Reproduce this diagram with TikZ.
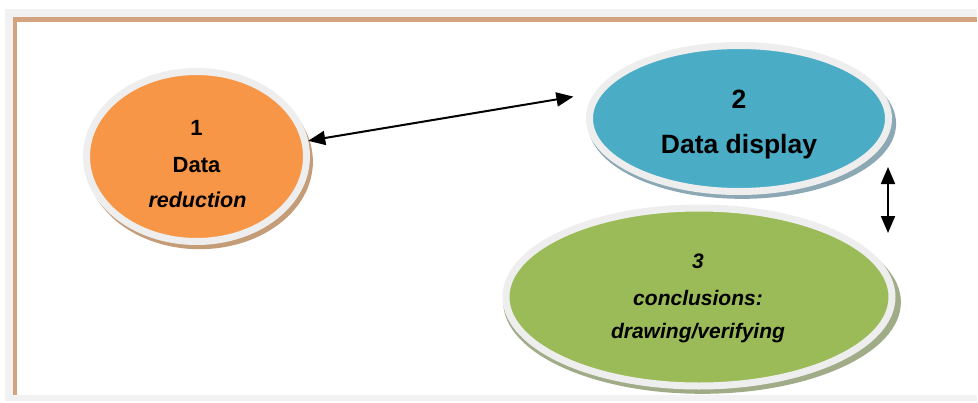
\documentclass[tikz,border=0pt]{standalone}
\usepackage{fontspec}
\setmainfont{Liberation Sans}
\usetikzlibrary{shapes.geometric,arrows.meta,shadows}
\definecolor{bgray}{HTML}{F2F2F2}
\definecolor{framec}{RGB}{211,163,128}
\definecolor{ringc}{HTML}{EEEEEE}
\definecolor{c1}{HTML}{F79646}
\definecolor{c2}{HTML}{4BACC6}
\definecolor{c3}{HTML}{9BBB59}
\definecolor{s1}{RGB}{196,156,120}
\definecolor{s2}{RGB}{140,168,180}
\definecolor{s3}{RGB}{160,172,135}
\begin{document}
\begin{tikzpicture}[x=1pt,y=-1pt,
  blob/.style={ellipse, draw=ringc, line width=7pt, inner sep=0pt,
     drop shadow={shadow xshift=3pt, shadow yshift=-5pt, shadow scale=1.03, fill=#1, opacity=1}},
  lbl/.style={anchor=base, inner sep=0pt},
  fa/.style={lbl, font=\fontsize{22}{24}\selectfont\bfseries},
  fai/.style={lbl, font=\fontsize{21.5}{24}\selectfont\bfseries\itshape},
  fb/.style={lbl, font=\fontsize{26.5}{30}\selectfont\bfseries},
  fc/.style={lbl, font=\fontsize{21}{24}\selectfont\bfseries\itshape},
  arr/.style={{Triangle[length=17pt,width=14pt]}-{Triangle[length=17pt,width=14pt]}, line width=2pt}]
\useasboundingbox (0,0) rectangle (978,402);
\fill[bgray] (5,9) rectangle (977,401);
\fill[white] (13,17) rectangle (977,395);
\fill[framec] (13,17) rectangle (977,22);
\fill[framec] (13,17) rectangle (16.5,395);

\node[blob=s1, fill=c1, minimum width=220pt, minimum height=170pt] (e1) at (196.5,156.5) {};
\node[blob=s2, fill=c2, minimum width=299pt, minimum height=146pt] (e2) at (739,118.5) {};
\node[blob=s3, fill=c3, minimum width=386pt, minimum height=178pt] (e3) at (699,297) {};

\node[fa] (n1) at (196.5,135) {1};
\node[fa] (d1) at (196.5,172.5) {Data};
\node[fai] (r1) at (197.5,207) {reduction};

\node[fb] (n2) at (739,108) {2};
\node[fb] (d2) at (739,153) {Data display};

\node[fc] (n3) at (698,268) {3};
\node[fc] (c3t) at (698,305) {conclusions:};
\node[fc] (v3t) at (698,338) {drawing/verifying};

\draw[arr, shorten >=21.6pt] (e1.8) -- (e2.170);
\coordinate (v1) at (888,167);
\coordinate (v2) at (888,233);
\draw[arr] (v1) -- (v2);
\end{tikzpicture}
\end{document}
